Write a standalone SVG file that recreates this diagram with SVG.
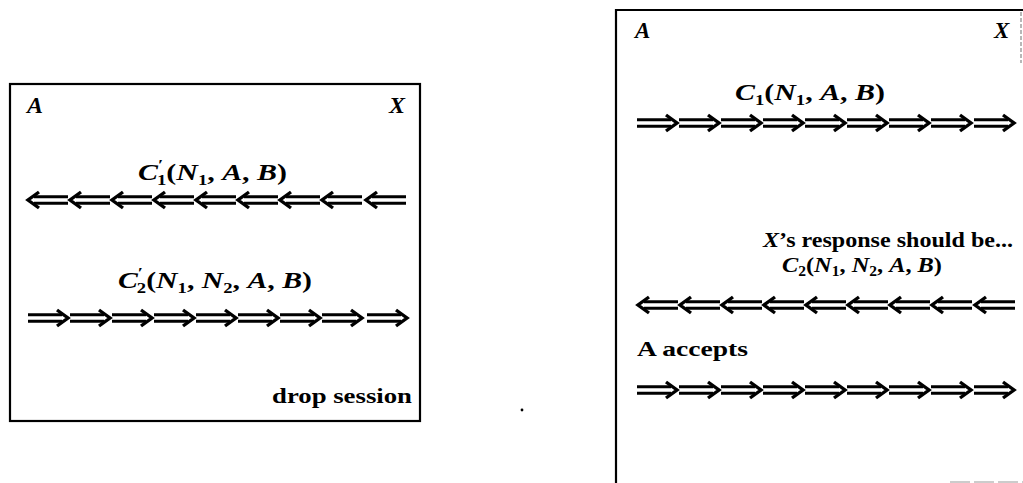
<svg xmlns="http://www.w3.org/2000/svg" width="1023" height="483" viewBox="0 0 1023 483">
<style>
.box{fill:none;stroke:#000;stroke-width:2.2}
.t{font-family:"Liberation Serif",serif;font-weight:bold;fill:#000}
.i{font-style:italic}
.up{font-style:normal}
.arr{stroke:#000;stroke-width:3;fill:none;stroke-linejoin:miter}
</style>
<defs>
<g id="ra" class="arr"><path d="M0,-3.3H34M0,3.3H34"/><path d="M29,-8L40,0L29,8" stroke-width="3.4"/></g>
<g id="la" class="arr"><path d="M6,-3.3H40M6,3.3H40"/><path d="M11,-8L0,0L11,8" stroke-width="3.4"/></g>
</defs>

<g id="box-left">
<rect class="box" x="10" y="84" width="410" height="337"/>
<text class="t i" x="27" y="113" font-size="24">A</text>
<text class="t i" x="389" y="113" font-size="24">X</text>
<text class="t" x="272" y="403" font-size="22" textLength="140" lengthAdjust="spacingAndGlyphs">drop session</text>
</g>

<g id="box-right">
<path class="box" d="M616,483V10H1023"/>
<path d="M1021,12V63" stroke="#888" stroke-width="1.2" stroke-dasharray="4,2" fill="none"/>
<path d="M950,482H1023" stroke="#999" stroke-width="1.2" stroke-dasharray="20,4" fill="none"/>
<text class="t i" x="635" y="38" font-size="23">A</text>
<text class="t i" x="994" y="38" font-size="23">X</text>
<text class="t" x="763" y="247" font-size="21" textLength="250" lengthAdjust="spacingAndGlyphs"><tspan class="i">X</tspan>’s response should be...</text>
<text class="t" x="637" y="356" font-size="22" textLength="111" lengthAdjust="spacingAndGlyphs">A accepts</text>
</g>

<g id="labels">
<text class="t i" x="138" y="180" font-size="24" textLength="149" lengthAdjust="spacingAndGlyphs">C<tspan dy="-10" font-size="15" class="up">′</tspan><tspan dx="-5" dy="15" font-size="15" class="up">1</tspan><tspan dy="-5" class="up">(</tspan>N<tspan dy="5" font-size="15" class="up">1</tspan><tspan dy="-5" class="up">, </tspan>A<tspan class="up">, </tspan>B<tspan class="up">)</tspan></text>
<text class="t i" x="118" y="288" font-size="24" textLength="194" lengthAdjust="spacingAndGlyphs">C<tspan dy="-10" font-size="15" class="up">′</tspan><tspan dx="-5" dy="15" font-size="15" class="up">2</tspan><tspan dy="-5" class="up">(</tspan>N<tspan dy="5" font-size="15" class="up">1</tspan><tspan dy="-5" class="up">, </tspan>N<tspan dy="5" font-size="15" class="up">2</tspan><tspan dy="-5" class="up">, </tspan>A<tspan class="up">, </tspan>B<tspan class="up">)</tspan></text>
<text class="t i" x="735" y="100" font-size="24" textLength="150" lengthAdjust="spacingAndGlyphs">C<tspan dy="5" font-size="15" class="up">1</tspan><tspan dy="-5" class="up">(</tspan>N<tspan dy="5" font-size="15" class="up">1</tspan><tspan dy="-5" class="up">, </tspan>A<tspan class="up">, </tspan>B<tspan class="up">)</tspan></text>
<text class="t i" x="782" y="272" font-size="22" textLength="160" lengthAdjust="spacingAndGlyphs">C<tspan dy="4" font-size="14" class="up">2</tspan><tspan dy="-4" class="up">(</tspan>N<tspan dy="4" font-size="14" class="up">1</tspan><tspan dy="-4" class="up">, </tspan>N<tspan dy="4" font-size="14" class="up">2</tspan><tspan dy="-4" class="up">, </tspan>A<tspan class="up">, </tspan>B<tspan class="up">)</tspan></text>
</g>

<g id="connectors">
<g id="row-left-1">
<use href="#la" x="28" y="200"/><use href="#la" x="70" y="200"/><use href="#la" x="112" y="200"/><use href="#la" x="154" y="200"/><use href="#la" x="196" y="200"/><use href="#la" x="238" y="200"/><use href="#la" x="280" y="200"/><use href="#la" x="322" y="200"/><use href="#la" x="366" y="200"/>
</g>
<g id="row-left-2">
<use href="#ra" x="28" y="318"/><use href="#ra" x="70" y="318"/><use href="#ra" x="112" y="318"/><use href="#ra" x="154" y="318"/><use href="#ra" x="196" y="318"/><use href="#ra" x="238" y="318"/><use href="#ra" x="280" y="318"/><use href="#ra" x="322" y="318"/><use href="#ra" x="367" y="318"/>
</g>
<g id="row-right-1">
<use href="#ra" x="637" y="123"/><use href="#ra" x="679" y="123"/><use href="#ra" x="721" y="123"/><use href="#ra" x="763" y="123"/><use href="#ra" x="805" y="123"/><use href="#ra" x="847" y="123"/><use href="#ra" x="889" y="123"/><use href="#ra" x="931" y="123"/><use href="#ra" x="974" y="123"/>
</g>
<g id="row-right-2">
<use href="#la" x="638" y="305"/><use href="#la" x="680" y="305"/><use href="#la" x="722" y="305"/><use href="#la" x="764" y="305"/><use href="#la" x="806" y="305"/><use href="#la" x="848" y="305"/><use href="#la" x="890" y="305"/><use href="#la" x="932" y="305"/><use href="#la" x="975" y="305"/>
</g>
<g id="row-right-3">
<use href="#ra" x="637" y="390"/><use href="#ra" x="679" y="390"/><use href="#ra" x="721" y="390"/><use href="#ra" x="763" y="390"/><use href="#ra" x="805" y="390"/><use href="#ra" x="847" y="390"/><use href="#ra" x="889" y="390"/><use href="#ra" x="931" y="390"/><use href="#ra" x="974" y="390"/>
</g>
</g>

<circle cx="522" cy="410" r="1.4" fill="#000"/>
</svg>
